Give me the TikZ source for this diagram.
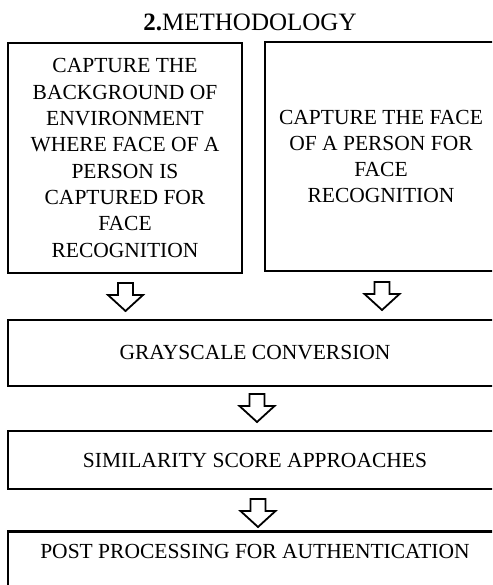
\documentclass[tikz,border=0pt]{standalone}
\usepackage{fontspec}
\setmainfont{Liberation Serif}
\usetikzlibrary{calc}
\begin{document}
\begin{tikzpicture}[x=1pt,y=-1pt,
  box/.style={draw, line width=2.6pt, align=center, inner sep=0pt, outer sep=0pt,
    font=\fontsize{21.5}{26.3}\selectfont},
  barrow/.pic={\draw[line width=1.8pt, fill=white, line join=miter]
    (-7.5,0) -- (7.5,0) -- (7.5,12) -- (17.5,12) -- (0,28) -- (-17.5,12) -- (-7.5,12) -- cycle;}]
\useasboundingbox (0,0) rectangle (492,585);
\clip (0,0) rectangle (492,585);
\node[font=\fontsize{25}{30}\selectfont] (title) at (250,22.5) {\textbf{2.}METHODOLOGY};
\node[box, minimum width=234pt, minimum height=230pt] (cap1) at (125,158)
  {CAPTURE THE\\BACKGROUND OF\\ENVIRONMENT\\WHERE FACE OF A\\PERSON IS\\CAPTURED FOR\\FACE\\RECOGNITION};
\node[box, minimum width=232pt, minimum height=229pt] (cap2) at (381,156.5)
  {CAPTURE THE FACE\\OF A PERSON FOR\\FACE\\RECOGNITION};
\node[box, minimum width=494pt, minimum height=66pt] (gray) at (255,353) {GRAYSCALE CONVERSION};
\node[box, minimum width=494pt, minimum height=58pt] (sim) at (255,460) {SIMILARITY SCORE APPROACHES};
\node[box, minimum width=494pt, inner ysep=13pt, text depth=45pt, anchor=north] (post) at (255,531.5)
  {POST PROCESSING FOR AUTHENTICATION};
\pic (a1) at ($(cap1.south)+(0.5,10)$) {barrow};
\pic (a2) at ($(cap2.south)+(1,11)$) {barrow};
\pic (a3) at ($(gray.south)+(2,8)$) {barrow};
\pic (a4) at ($(sim.south)+(3,10)$) {barrow};
\end{tikzpicture}
\end{document}
